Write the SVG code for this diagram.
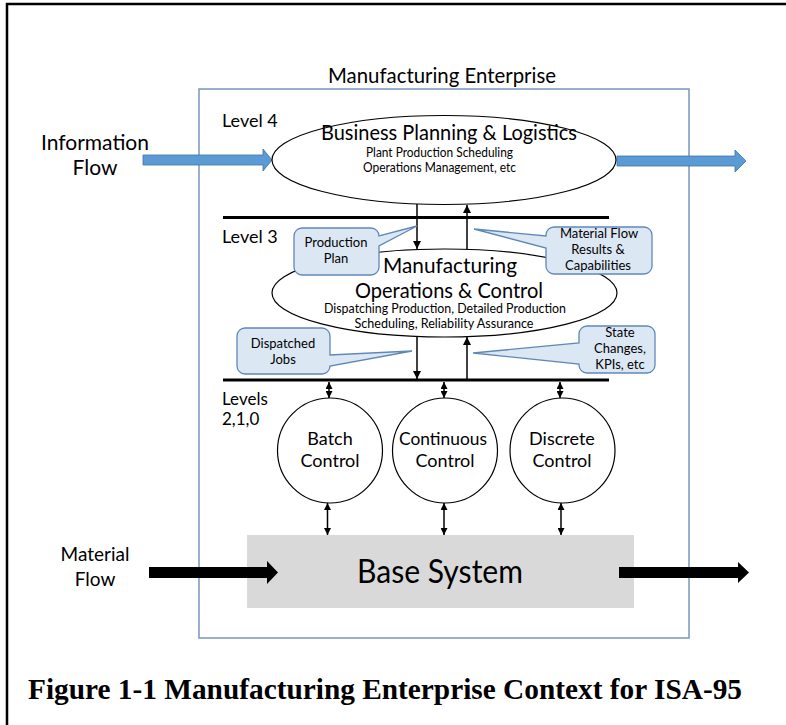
<svg xmlns="http://www.w3.org/2000/svg" width="786" height="725" viewBox="0 0 786 725">
<defs>
<style>
.t{font-family:Lato,"Liberation Sans",sans-serif;fill:#000}
.m{text-anchor:middle}
.ell{fill:#fff;stroke:#000;stroke-width:1.2}
.circ{fill:#fff;stroke:#000;stroke-width:1.2}
.call{fill:#dce7f4;stroke:#5f88b8;stroke-width:1.3}
.bar{stroke:#000;stroke-width:3}
.ln{stroke:#000;stroke-width:1.5;fill:none}
.blue{fill:#5b9bd5;stroke:#41719c;stroke-width:0.8}
.blk{fill:#000}
</style>
<marker id="ah" viewBox="0 0 8 8" markerWidth="8" markerHeight="8" refX="8" refY="4" orient="auto-start-reverse" markerUnits="userSpaceOnUse">
<path d="M0,0 L8,4 L0,8 z" fill="#000"/>
</marker>
<marker id="sh" viewBox="0 0 8 8" markerWidth="7" markerHeight="7" refX="8" refY="4" orient="auto-start-reverse" markerUnits="userSpaceOnUse">
<path d="M0,0 L8,4 L0,8 z" fill="#000"/>
</marker>
</defs>
<rect width="786" height="725" fill="#fff"/>
<path d="M7,725 V4 H786" fill="none" stroke="#000" stroke-width="2.5"/>
<text class="t m" x="442" y="83" font-size="21" textLength="228" lengthAdjust="spacingAndGlyphs">Manufacturing Enterprise</text>
<rect id="enterprise" x="199" y="89" width="490" height="549" fill="none" stroke="#7f9cc2" stroke-width="1.6"/>
<text class="t" x="222" y="127" font-size="18">Level 4</text>
<text class="t" x="222" y="243" font-size="18">Level 3</text>
<text class="t" x="222" y="405" font-size="17">Levels</text>
<text class="t" x="222" y="425" font-size="17">2,1,0</text>
<text class="t m" x="95" y="150" font-size="21">Information</text>
<text class="t m" x="95" y="175" font-size="21">Flow</text>
<text class="t m" x="95" y="561" font-size="19">Material</text>
<text class="t m" x="95" y="586" font-size="19">Flow</text>
<line class="bar" x1="223" y1="217.5" x2="609" y2="217.5"/>
<line class="bar" x1="223" y1="380" x2="609" y2="380"/>
<g id="base-system">
<rect x="247" y="535" width="387" height="73" fill="#d9d9d9"/>
<text class="t m" x="440" y="583" font-size="32" textLength="166" lengthAdjust="spacingAndGlyphs">Base System</text>
</g>
<g id="connectors">
<line class="ln" x1="417" y1="204" x2="417" y2="249" marker-end="url(#ah)"/>
<line class="ln" x1="467" y1="249" x2="467" y2="205" marker-end="url(#ah)"/>
<line class="ln" x1="417" y1="336" x2="417" y2="379" marker-end="url(#ah)"/>
<line class="ln" x1="467" y1="379" x2="467" y2="337" marker-end="url(#ah)"/>
<line class="ln" x1="329" y1="382" x2="329" y2="398" marker-start="url(#sh)" marker-end="url(#sh)"/>
<line class="ln" x1="444" y1="382" x2="444" y2="398" marker-start="url(#sh)" marker-end="url(#sh)"/>
<line class="ln" x1="560" y1="382" x2="560" y2="398" marker-start="url(#sh)" marker-end="url(#sh)"/>
<line class="ln" x1="327.5" y1="503" x2="327.5" y2="535" marker-start="url(#sh)" marker-end="url(#sh)"/>
<line class="ln" x1="444" y1="503" x2="444" y2="535" marker-start="url(#sh)" marker-end="url(#sh)"/>
<line class="ln" x1="561" y1="503" x2="561" y2="535" marker-start="url(#sh)" marker-end="url(#sh)"/>
<polygon class="blue" points="143,155 263,155 263,149 272,160 263,171 263,165 143,165"/>
<polygon class="blue" points="617,156 735,156 735,150 746,161 735,172 735,166 617,166"/>
<polygon class="blk" points="149,567 267,567 267,561 278,572.5 267,584 267,578 149,578"/>
<polygon class="blk" points="619,567 738,567 738,562 749,572.5 738,583 738,578 619,578"/>
</g>
<g id="level4">
<ellipse class="ell" cx="444" cy="160" rx="172" ry="44.5"/>
<text class="t m" x="449" y="140" font-size="21" textLength="256" lengthAdjust="spacingAndGlyphs">Business Planning &amp; Logistics</text>
<text class="t m" x="439.5" y="157" font-size="12.5" textLength="147" lengthAdjust="spacingAndGlyphs">Plant Production Scheduling</text>
<text class="t m" x="439.5" y="172" font-size="12.5" textLength="153" lengthAdjust="spacingAndGlyphs">Operations Management, etc</text>
</g>
<g id="level3">
<ellipse class="ell" cx="444.5" cy="293" rx="172.5" ry="44"/>
<text class="t m" x="450" y="273" font-size="21" textLength="134" lengthAdjust="spacingAndGlyphs">Manufacturing</text>
<text class="t m" x="449" y="298" font-size="21" textLength="188" lengthAdjust="spacingAndGlyphs">Operations &amp; Control</text>
<text class="t m" x="445" y="313" font-size="12.5" textLength="242" lengthAdjust="spacingAndGlyphs">Dispatching Production, Detailed Production</text>
<text class="t m" x="444" y="328" font-size="12.5" textLength="179" lengthAdjust="spacingAndGlyphs">Scheduling, Reliability Assurance</text>
</g>
<g id="callout-production-plan">
<path class="call" d="M302,228 H371 A8,8 0 0 1 379,236 L417,226 L379,246 V267 A8,8 0 0 1 371,275 H302 A8,8 0 0 1 294,267 V236 A8,8 0 0 1 302,228 Z"/>
<text class="t m" x="336" y="247" font-size="13">Production</text>
<text class="t m" x="336" y="263" font-size="13">Plan</text>
</g>
<g id="callout-material-flow">
<path class="call" d="M554,227 H644 A8,8 0 0 1 652,235 V266 A8,8 0 0 1 644,274 H554 A8,8 0 0 1 546,266 V248 L474,229 L546,236 V235 A8,8 0 0 1 554,227 Z"/>
<text class="t m" x="599" y="238" font-size="13">Material Flow</text>
<text class="t m" x="598" y="254" font-size="13">Results &amp;</text>
<text class="t m" x="598" y="270" font-size="13">Capabilities</text>
</g>
<g id="callout-dispatched-jobs">
<path class="call" d="M245,328 H322 A8,8 0 0 1 330,336 V355 L412,351 L330,366 A8,8 0 0 1 322,374 H245 A8,8 0 0 1 237,366 V336 A8,8 0 0 1 245,328 Z"/>
<text class="t m" x="283" y="348" font-size="13">Dispatched</text>
<text class="t m" x="283" y="364" font-size="13">Jobs</text>
</g>
<g id="callout-state-changes">
<path class="call" d="M587,326 H647 A8,8 0 0 1 655,334 V365 A8,8 0 0 1 647,373 H587 A8,8 0 0 1 579,365 V364 L473,353 L579,343 V334 A8,8 0 0 1 587,326 Z"/>
<text class="t m" x="620" y="337" font-size="13">State</text>
<text class="t m" x="620" y="353" font-size="13">Changes,</text>
<text class="t m" x="620" y="369" font-size="13">KPIs, etc</text>
</g>
<g id="batch-control">
<circle class="circ" cx="330" cy="450.5" r="52.5"/>
<text class="t m" x="330" y="445" font-size="18">Batch</text>
<text class="t m" x="330" y="467" font-size="18">Control</text>
</g>
<g id="continuous-control">
<circle class="circ" cx="445" cy="450.5" r="52.5"/>
<text class="t m" x="443" y="445" font-size="18" textLength="88" lengthAdjust="spacingAndGlyphs">Continuous</text>
<text class="t m" x="445" y="467" font-size="18">Control</text>
</g>
<g id="discrete-control">
<circle class="circ" cx="562.5" cy="450.5" r="52.5"/>
<text class="t m" x="562" y="445" font-size="18">Discrete</text>
<text class="t m" x="562" y="467" font-size="18">Control</text>
</g>
<text x="28" y="699" font-family="'Liberation Serif',serif" font-weight="bold" font-size="29" textLength="714" lengthAdjust="spacingAndGlyphs">Figure 1-1 Manufacturing Enterprise Context for ISA-95</text>
</svg>
